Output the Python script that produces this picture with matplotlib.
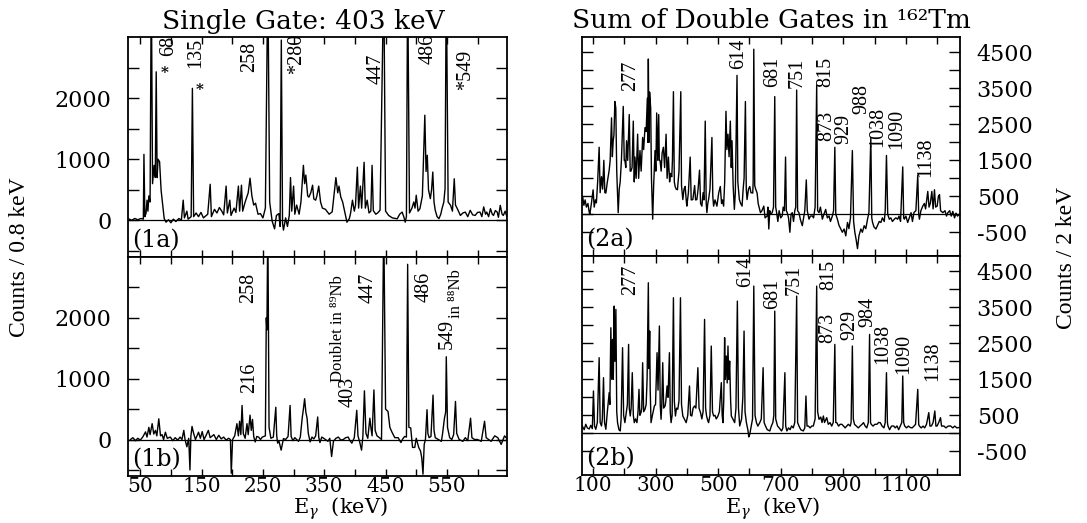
import numpy as np
import matplotlib.pyplot as plt

# (E_gamma in keV, counts) vertices of each spectrum
spec_1a = [
    (32, 20), (36, 0), (41, 30), (46, 10), (51, 30), (55, 20), (56, 1080), (57.5, 60),
    (59.5, 120), (61, 330), (62.5, 150), (64, 400), (66, 300), (68, 4000), (70, 600),
    (72.5, 900), (74.5, 700), (76, 2430), (77.5, 700), (79, 1000), (81.5, 960), (84, 490),
    (86, 300), (89, 30), (92, -30), (96, 10), (100, -40), (104, 20), (108, -20), (113, 30),
    (117, 0), (120, 330), (122, 40), (126, 150), (128, 20), (133, 60), (135, 2160), (137, 60),
    (141, 120), (145, 60), (149, 130), (153, 40), (160, 100), (164, 590), (166, 60), (171, 180),
    (175, 120), (179, 210), (183, 150), (186, 90), (190, 560), (192, 120), (196, 330), (198, 80),
    (203, 200), (206, 130), (210, 560), (212, 150), (215, 575), (217, 150), (221, 300),
    (226, 450), (229, 690), (232, 400), (235, 250), (238, 280), (242, 100), (246, 110),
    (250, 40), (254, 200), (258, 4000), (261, 300), (265, -10), (269, -140), (272, 80),
    (276, 110), (278, -100), (280, 2950), (282, -50), (283.5, -160), (287, 40), (290, -100),
    (293, 80), (295, 700), (297, 150), (300, 560), (302, 100), (305, 250), (309, 100),
    (312, 300), (316, 900), (318, 600), (320, 740), (323, 400), (325, 380), (328, 450),
    (331, 575), (333, 350), (336, 330), (338, 400), (341, 560), (344, 300), (347, 200),
    (352, 180), (358, 100), (363, 140), (369, 700), (372, 450), (374, 560), (377, 380),
    (380, 300), (383, 160), (387, -30), (391, 30), (393, 120), (396, 330), (399, 150),
    (401, 250), (404, 870), (406, 200), (409, 560), (411, 200), (415, 950), (417, 200),
    (420, 330), (423, 120), (426, 150), (428, 900), (430, 160), (434, 100), (437, 120),
    (441, 164), (447, 4000), (450, 150), (455, 80), (461, 40), (469, 25), (473, 100),
    (477, 135), (480, 50), (482, -30), (484, 60), (486, 4000), (489, 120), (493, 200),
    (496, 300), (498, 200), (500, 410), (503, 150), (506, 190), (510, 400), (514, 1720),
    (516, 800), (518, 1065), (520, 500), (523, 355), (525, 500), (527, 790), (529, 300),
    (531, 164), (534, 60), (537, 27), (540, 100), (542, 190), (545, 300), (547, 520),
    (549, 4000), (552, 300), (556, 245), (559, 150), (562, 680), (564, 250), (567, 190),
    (572, 80), (576, 120), (580, 135), (584, 60), (588, 164), (592, 90), (596, 80),
    (600, 130), (604, 135), (607, 60), (610, 220), (613, 100), (615, 135), (618, 60),
    (621, 190), (624, 100), (626, 80), (629, 160), (632, 135), (634, 50), (637, 245),
    (640, 100), (642, 80), (645, 150), (648, 55),
]

spec_1b = [
    (34, 0), (38, 30), (42, -20), (46, 20), (50, -10), (54, 40), (58.6, 125), (61, 40),
    (64, 200), (66, 80), (69.4, 260), (72, 90), (74.8, 150), (77, 60), (80.2, 340), (83, 60),
    (85.6, 80), (88, 0), (91, 120), (94, 20), (99, 40), (103, -20), (107, 30), (111, -10),
    (115, 40), (118, 0), (121, 150), (123, 0), (126, -120), (129, 20), (131, -500),
    (132.5, 50), (134.4, 215), (137, 100), (140, 0), (145, 120), (148, 20), (151, 130),
    (154, 0), (157, 60), (161, 150), (164, 30), (170, 80), (174, 0), (178, 70), (182, 10),
    (186, 40), (190, -10), (194, 20), (197, 0), (198.4, -555), (200.5, 0), (204, 60),
    (207.6, 260), (210, 60), (212, 300), (214, 80), (216, 560), (218, 100), (221, 20),
    (224, 260), (226, 80), (229, 400), (231, 150), (233, 330), (235, 50), (237.4, -40),
    (240, 50), (243, 40), (246, 0), (249, 40), (254, 60), (255.5, 2000), (256.5, 1800),
    (258, 3600), (260, 200), (263, 20), (267, 40), (271, 530), (272.5, 60), (274, -60),
    (276, -20), (279.7, -175), (283.5, 15), (287, 0), (291, 50), (294.3, 560), (296, 50),
    (299, -20), (302, 30), (305, 0), (308, -30), (311, 40), (314, 350), (316, 500),
    (318, 670), (320, 450), (322, 350), (324, 100), (327, -40), (330, 40), (333, 10),
    (336, 60), (339.3, 370), (341, 40), (343, -50), (346, 40), (349, 20), (352, 0),
    (356, -30), (359, 20), (362, -280), (365, -30), (369, 20), (373, 40), (377, -10),
    (381, 0), (385, 30), (389, 40), (392, -20), (395, -60), (399, 30), (403, 480), (405, 60),
    (408, -50), (410.8, -175), (413, 50), (415.5, 800), (418, 100), (421, 20), (424.4, 350),
    (426, 200), (428, 60), (431, 815), (433, 150), (436, 60), (440, 30), (443.4, 0),
    (447, 3600), (450, 500), (454, 460), (457, 200), (460, 130), (465, 30), (470.5, 30),
    (475, -50), (478, 10), (481, 50), (484, 40), (486, 2880), (488, 200), (491, 190),
    (494, -130), (497.6, -130), (500, 20), (504, -130), (507, -190), (509, -300),
    (511, -570), (513, -80), (515, 0), (517.6, 490), (519, 100), (521, 30), (524, 50),
    (527.4, 730), (529, 150), (531, 30), (536, 0), (541, -30), (543, 100), (546, 350),
    (548, 450), (549, 1360), (551, 200), (554.5, 30), (558, 0), (561, 80), (564, 625),
    (566, 100), (570, 0), (576, -30), (580, 30), (584, -20), (588.6, 350), (590.8, 30),
    (595, 0), (600, 0), (606, -30), (611.4, 300), (614, 30), (618, 0), (622, -30),
    (628, 60), (633, 30), (638.5, -80), (644, 60), (649, 0),
]

spec_2a = [
    (63, 300), (67, 500), (71, 250), (75, 400), (79, 200), (84, 300), (88, 60), (90, 0),
    (95, 300), (100.5, 680), (104, 200), (108, 400), (111, 318), (115, 900), (119.8, 1864),
    (123, 600), (127.3, 1045), (131, 700), (134.8, 1500), (138, 600), (141.2, 591),
    (146, 900), (151.9, 1227), (155, 1500), (159.4, 2682), (162, 1600), (164.7, 2045),
    (167, 2200), (170.1, 3136), (173, 2955), (176, 1200), (180.7, 45), (184, 700),
    (187, 900), (191, 1500), (196.8, 3000), (200, 1500), (202.1, 1500), (205, 1300),
    (207.5, 2045), (211, 1500), (216, 2773), (219, 1200), (221.4, 1200), (225, 1300),
    (228.9, 2591), (232, 900), (234.2, 1591), (238, 1000), (242.8, 2227), (246, 1000),
    (250.3, 1773), (254, 1200), (258.8, 2136), (262, 1800), (266.3, 2409), (270, 2300),
    (273.8, 3227), (275.5, 2000), (277, 4318), (279, 2000), (281, 3400), (284.5, 2955),
    (287, 1000), (290.9, -136), (294, 800), (298.4, 1773), (301, 1200), (303.7, 2818),
    (307, 1500), (310.2, 2773), (312, 1500), (314.4, 1500), (318, 1200), (321, 1700),
    (325.1, 1864), (329, 1300), (333.7, 2227), (337, 1000), (341.2, 1591), (345, 900),
    (348, 1136), (351.9, 1045), (354, 1500), (357.2, 3409), (360, 900), (362.6, 773),
    (366, 700), (370, 682), (375, 1200), (380.7, 3409), (383, 800), (387.2, 409),
    (391, 700), (394.6, 773), (398, 400), (400, 227), (405, 600), (410.7, 1591), (414, 400),
    (419.2, 409), (425, 800), (428, 400), (432.1, 409), (436, 700), (440.6, 1227),
    (444, 300), (448.1, 227), (452, 600), (455, 400), (458.8, 2591), (462, 300),
    (464.2, 45), (467, 300), (469.5, 409), (474, 700), (480.2, 2136), (483, 500),
    (485.6, 227), (490, 400), (496.2, 227), (502, 600), (507, 773), (511, 300), (514, 400),
    (517.6, 227), (521, 900), (525.1, 2864), (528, 1800), (531.5, 2227), (535, 1600),
    (539, 2591), (542, 1300), (544.4, 2045), (548, 800), (551.9, 136), (555, 600),
    (560.4, 3864), (563, 900), (567.9, 409), (572, 300), (576.5, 227), (580, 700),
    (583, 1000), (587.2, 3136), (590, 700), (592.5, 409), (597, 700), (601.1, 773),
    (605, 600), (610.7, 591), (612, 900), (614, 4591), (617, 800), (620, 700),
    (624.6, 591), (628, 300), (631, 200), (635.3, 45), (640, 100), (646, 227), (650, -100),
    (656.7, -45), (659, 200), (662, -409), (665, 100), (668, 0), (672.8, 45), (677, 200),
    (681, 3273), (684, 200), (687, 45), (690.9, -200), (695, 100), (700, -100),
    (704.8, -45), (708, 200), (712, 100), (715.5, 1591), (718, 100), (720.8, 45),
    (725, -100), (729.4, -500), (733, 0), (736.9, 45), (741, -200), (745, 100), (748, 200),
    (751, 3455), (754, 100), (758.3, 45), (763, -150), (769, -318), (773, -100), (777, 100),
    (781.8, 955), (785, 100), (790.4, -136), (795, -50), (801.1, -45), (805, -100),
    (810, 200), (815, 3591), (818, 100), (822.5, 45), (827, 200), (833.1, -136), (838, 0),
    (843.8, 136), (849, -100), (854.5, -45), (859, -200), (865.2, -45), (869, 100),
    (873, 1864), (876, 0), (881.2, -136), (886, -300), (891.9, -409), (897, -500),
    (902.7, -409), (908, -600), (913.4, -227), (918, -400), (923, -100), (929, 1773),
    (933, -200), (936.9, -500), (941, -700), (945.4, -955), (950, -600), (956.1, -409),
    (961, -500), (966.8, -318), (972, -400), (977.5, -136), (982, 50), (988, 2136),
    (991, -100), (993.6, -227), (998, -350), (1004.3, -409), (1010, -300), (1015, -200),
    (1020.3, -227), (1025, -100), (1031, -200), (1034, 100), (1038, 1636), (1042, 0),
    (1047, -136), (1052, -100), (1057, -200), (1063.1, -136), (1068, -100), (1073.8, -136),
    (1078, -50), (1083, -200), (1090, 1318), (1093, -100), (1095.2, -136), (1100, -50),
    (1105.9, -227), (1111, -100), (1116.6, 45), (1121, -200), (1126, 50), (1132, 100),
    (1138, 1091), (1141, 0), (1143.3, -136), (1148, 100), (1154, 227), (1159, 300),
    (1163, 150), (1170, 636), (1174, 200), (1178, 300), (1183, 636), (1187, 150),
    (1191.4, 682), (1195, 200), (1200, 227), (1204, 500), (1207.5, 545), (1211, 100),
    (1218.2, 45), (1225, 100), (1230, -50), (1234.2, 45), (1240, 100), (1245, -50),
    (1250, 80), (1255.6, -100), (1260, 30), (1265, -50), (1271.7, 0),
]

spec_2b = [
    (66, 200), (72, 100), (77, 250), (82, 150), (88, 120), (93, 220), (98, 130),
    (101.6, 1176), (105, 200), (109, 111), (114, 300), (119.8, 2102), (123, 300),
    (127.3, 204), (130, 400), (133.7, 1546), (137, 300), (141.2, 111), (146, 600),
    (151.9, 1130), (154, 800), (157.2, 2935), (160, 1500), (162.6, 2611), (165, 1500),
    (167.9, 3537), (170, 2000), (173.3, 3445), (176, 600), (178.6, 296), (183, 100),
    (187.2, 65), (190, 400), (194.6, 2380), (198, 500), (202.1, 296), (207, 600),
    (210, 800), (213.9, 2472), (216, 700), (219.2, 481), (222, 700), (225.7, 1685),
    (229, 500), (232.1, 296), (236, 400), (240.6, 296), (244, 600), (247.1, 1222),
    (250, 500), (253.5, 574), (256, 700), (258.8, 1963), (262, 600), (266.3, 667),
    (270, 800), (273, 1500), (277, 4186), (279, 1800), (281.3, 2843), (283, 1200),
    (285.6, 296), (290, 500), (296.3, 759), (300, 800), (304.8, 2241), (308, 1200),
    (312.3, 2982), (315, 800), (317.6, 389), (320, 800), (323, 1963), (326, 700),
    (330.5, 759), (333, 900), (336.9, 1315), (340, 1000), (344.4, 2241), (347, 600),
    (349.7, 296), (353, 500), (357.2, 3769), (360, 900), (363.6, 481), (367, 700),
    (371.1, 667), (375, 900), (379.7, 3769), (383, 800), (387.2, 481), (392, 400),
    (397.9, 296), (403, 500), (408.5, 1315), (412, 500), (416, 481), (420, 700),
    (424.6, 759), (429, 700), (435.3, 1824), (439, 700), (443.8, 574), (448, 400),
    (452, 600), (456.7, 3167), (460, 700), (463.1, 481), (467, 350), (469.5, 296),
    (474, 500), (478.1, 2426), (482, 600), (485.6, 481), (490, 500), (494, 400),
    (499.5, 481), (504, 600), (510.2, 1408), (513, 500), (515.5, 296), (518, 900),
    (520.8, 2658), (523, 1500), (526.2, 2148), (529, 1400), (531.5, 2426), (534, 1500),
    (536.9, 2009), (540, 900), (542.2, 481), (547, 400), (552.9, 296), (557, 700),
    (561.5, 3676), (565, 700), (569, 204), (575, 400), (579, 1000), (582.9, 2843),
    (586, 600), (590.4, 296), (595, 100), (598, -100), (601.1, -28), (606, 200), (610, 400),
    (614, 4093), (618, 500), (622.5, 296), (627, 200), (633.1, 296), (638, 400),
    (643.8, 1824), (647, 300), (651.3, 204), (657, 100), (665.2, 65), (670, 200),
    (675, 300), (678, 500), (681, 3398), (684, 400), (689.8, 204), (695, 150),
    (702.7, 65), (707, 150), (713.4, 1685), (716, 200), (719.8, 65), (725, 150),
    (730, 100), (734.8, 204), (740, 150), (745, 300), (751, 3815), (754, 300),
    (758.3, 204), (764, 100), (772.2, 65), (777, 150), (780.7, 1037), (784, 200),
    (788.2, 204), (794, 150), (799, 200), (804.3, 204), (810, 400), (815, 4093),
    (818, 600), (822.5, 389), (828, 450), (832, 300), (836.4, 481), (840, 300),
    (847.1, 435), (852, 250), (857.8, 296), (863, 200), (868, 300), (873, 2472),
    (876, 300), (879.2, 296), (885, 200), (890, 250), (895.3, 250), (901, 200), (906, 150),
    (911.2, 204), (916, 250), (922, 200), (925, 300), (929, 2426), (932, 400),
    (935.8, 250), (942, 200), (948, 150), (954, 204), (960, 250), (964.7, 296), (970, 200),
    (975, 150), (980, 300), (984, 2750), (987, 300), (989.3, 250), (995, 200), (1001, 250),
    (1007.5, 250), (1013, 300), (1018.2, 296), (1024, 200), (1030, 150), (1034, 300),
    (1038, 1685), (1041, 300), (1042.8, 204), (1048, 100), (1054, 200), (1061, 204),
    (1066, 150), (1071.6, 204), (1077, 100), (1082, 200), (1087, 300), (1090, 1593),
    (1093, 300), (1096.2, 204), (1102, 150), (1108, 200), (1114.4, 160), (1120, 150),
    (1126, 200), (1131, 250), (1138, 1222), (1141, 250), (1143, 204), (1149, 150),
    (1155, 200), (1160, 150), (1166, 250), (1173.2, 574), (1177, 200), (1181.8, 204),
    (1187, 300), (1192.5, 620), (1196, 200), (1200, 204), (1205, 300), (1210.7, 435),
    (1214, 200), (1221.4, 204), (1228, 150), (1235, 200), (1242.8, 204), (1250, 150),
    (1256, 200), (1263, 150), (1269.5, 160),
]

# peak labels: (text, keV, counts) of the label centre
labels_1a = [("68", 96, 2850), ("135", 141, 2732), ("258", 228, 2672),
             ("*280", 305, 2716), ("447", 434, 2486), ("486", 520, 2803),
             ("*549", 581, 2459)]
stars_1a = [(90, 2415), (146, 2126)]
labels_1b = [("216", 229, 1011), ("258", 226, 2489), ("403", 389, 777),
             ("447", 421, 2490), ("486", 513, 2516), ("549", 551, 1739)]
notes_1b = [("Doublet in \u2078\u2079Nb", 373, 1826), ("in \u2078\u2078Nb", 565, 2391)]
labels_2a = [("277", 220, 3845), ("614", 566, 4454), ("681", 673, 3954),
             ("751", 753, 3936), ("815", 844, 3954), ("873", 847, 2454),
             ("929", 902, 2382), ("988", 959, 3209), ("1038", 1010, 2427),
             ("1090", 1072, 2363), ("1138", 1163, 1591)]
labels_2b = [("277", 221, 4260), ("614", 588, 4482), ("681", 673, 3889),
             ("751", 742, 4260), ("815", 854, 4417), ("873", 850, 2935),
             ("929", 922, 3000), ("984", 979, 3371), ("1038", 1027, 2491),
             ("1090", 1093, 2195), ("1138", 1186, 2009)]

plt.rcParams["font.family"] = "DejaVu Serif"
plt.rcParams["mathtext.fontset"] = "dejavuserif"
plt.rcParams["axes.unicode_minus"] = False
times = ["Liberation Serif", "DejaVu Serif"]

W, H = 1087, 523
fig = plt.figure(figsize=(W / 100, H / 100), dpi=100)


def box(x0, y0, x1, y1):
    return [x0 / W, 1 - y1 / H, (x1 - x0) / W, (y1 - y0) / H]


ax1a = fig.add_axes(box(128, 37, 507, 257))
ax1b = fig.add_axes(box(128, 257, 507, 476))
ax2a = fig.add_axes(box(582, 37, 960, 256))
ax2b = fig.add_axes(box(582, 256, 960, 475))


def draw(ax, spec, labels, tag):
    e, c = np.array(spec).T
    ax.plot(e, c, color="black", lw=1.0)
    ax.axhline(0, color="black", lw=0.9)
    for txt, x, y in labels:
        ax.text(x, y, txt, rotation=90, ha="center", va="center",
                family=times, fontsize=14.5, clip_on=False)
    ax.text(0.01, 0.075, tag, transform=ax.transAxes, fontsize=17,
            ha="left", va="center")
    for s in ax.spines.values():
        s.set_linewidth(1.3)


for ax, spec, labels, tag in [(ax1a, spec_1a, labels_1a, "(1a)"),
                              (ax1b, spec_1b, labels_1b, "(1b)")]:
    draw(ax, spec, labels, tag)
    ax.set_xlim(30, 648)
    ax.set_ylim(-600, 3000)
    ax.set_xticks(np.arange(50, 600, 100))
    ax.set_xticks(np.arange(100, 650, 100), minor=True)
    ax.set_yticks([0, 1000, 2000])
    ax.set_yticks([-500, 500, 1500, 2500], minor=True)

for ax, spec, labels, tag in [(ax2a, spec_2a, labels_2a, "(2a)"),
                              (ax2b, spec_2b, labels_2b, "(2b)")]:
    draw(ax, spec, labels, tag)
    ax.set_xlim(65, 1273)
    ax.set_ylim(-1160, 4930)
    ax.set_xticks(np.arange(100, 1200, 200))
    ax.set_xticks(np.arange(200, 1300, 200), minor=True)
    ax.set_yticks(np.arange(-500, 5000, 1000))
    ax.set_yticks(np.arange(0, 4500, 1000), minor=True)

for ax in (ax1a, ax1b, ax2a, ax2b):
    ax.tick_params(which="both", direction="in", top=True, right=True)
    ax.tick_params(axis="y", which="both", length=8, width=1, pad=12, labelsize=16)
    ax.tick_params(axis="x", which="both", length=5, width=1, pad=1, labelsize=14.5)

for ax in (ax2a, ax2b):
    ax.tick_params(axis="y", labelleft=False, labelright=True)
ax1a.tick_params(labelbottom=False)
ax2a.tick_params(labelbottom=False)

for x, y in stars_1a:
    ax1a.text(x, y, "*", ha="center", va="center", fontsize=11, fontweight="bold")
for txt, x, y in notes_1b:
    ax1b.text(x, y, txt, rotation=90, ha="center", va="center",
              family=times, fontsize=12)

fig.text(303 / W, 1 - 22 / H, "Single Gate: 403 keV", ha="center", va="center",
         fontsize=19)
fig.text(771 / W, 1 - 20 / H, "Sum of Double Gates in \u00b9\u2076\u00b2Tm",
         ha="center", va="center", fontsize=19)
fig.text(340 / W, 1 - 514 / H, r"E$_\gamma$  (keV)", ha="center", va="baseline",
         fontsize=15)
fig.text(772 / W, 1 - 514 / H, r"E$_\gamma$  (keV)", ha="center", va="baseline",
         fontsize=15)
fig.text(20 / W, 1 - 257 / H, "Counts / 0.8 keV", rotation=90, ha="center",
         va="center", family=times, fontsize=17)
fig.text(1066 / W, 1 - 258 / H, "Counts / 2 keV", rotation=90, ha="center",
         va="center", family=times, fontsize=17)

fig.savefig("out.png", dpi=100)
